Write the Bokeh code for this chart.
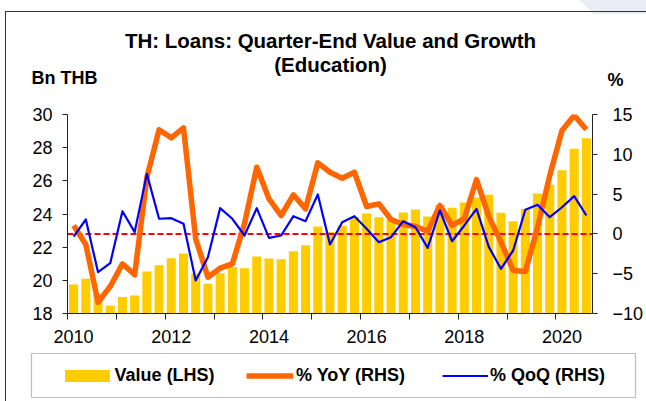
from bokeh.plotting import figure
from bokeh.layouts import column
from bokeh.models import (Range1d, LinearAxis, FixedTicker, Legend, LegendItem,
                          BoxAnnotation, ColumnDataSource, Plot)
from bokeh.core.properties import value
from bokeh.embed import file_html
from bokeh.resources import INLINE

# ---------------- data ----------------
quarters = [f"{y}Q{q}" for y in range(2010, 2021) for q in range(1, 5)][:43]

value_bn = [19.75, 20.09, 19.14, 18.48, 19.00, 19.08, 20.53, 20.91, 21.33, 21.62,
            20.40, 19.80, 20.43, 20.80, 20.73, 21.43, 21.31, 21.27, 21.76, 22.12,
            23.25, 22.92, 23.29, 23.81, 24.03, 23.81, 23.69, 24.09, 24.27, 23.85,
            24.55, 24.37, 24.69, 25.00, 25.16, 24.07, 23.57, 24.31, 25.23, 25.76,
            26.64, 27.93, 28.57]

yoy_pct = [1.06, -1.33, -8.58, -6.60, -3.76, -5.14, 7.10, 13.08, 12.07, 13.33,
           -0.62, -5.44, -4.30, -3.76, 1.30, 8.38, 4.41, 2.31, 4.91, 3.15,
           8.93, 7.75, 7.00, 7.75, 3.44, 3.78, 1.81, 1.18, 0.93, 0.34,
           3.57, 1.06, 1.90, 6.83, 2.20, -1.00, -4.60, -4.72, 0.84, 7.34,
           12.99, 14.87, 13.12]

qoq_pct = [-0.33, 1.81, -4.80, -3.68, 2.85, 0.22, 7.54, 1.90, 1.98, 1.27,
           -5.85, -2.93, 3.23, 1.90, -0.20, 3.23, -0.49, -0.20, 2.23, 1.60,
           4.95, -1.33, 1.47, 2.23, 0.64, -1.04, -0.41, 1.60, 0.84, -1.75,
           2.94, -0.92, 1.06, 3.15, -1.60, -4.39, -2.09, 3.03, 3.66, 2.10,
           3.35, 4.74, 2.31]

year_labels = ["2010", "2012", "2014", "2016", "2018", "2020"]
lhs_ticks = [18, 20, 22, 24, 26, 28, 30]
rhs_ticks = [-10, -5, 0, 5, 10, 15]

title_lines = ["TH: Loans: Quarter-End Value and Growth", "(Education)"]
lhs_unit = "Bn THB"
rhs_unit = "%"
series_names = ["Value (LHS)", "% YoY (RHS)", "% QoQ (RHS)"]

FONT = "Liberation Sans"
BAR_C, YOY_C, QOQ_C, ZERO_C = "#FFCC00", "#FF6600", "#0000FF", "#FF0000"
W = 646
n = len(quarters)
src = ColumnDataSource(dict(x=list(range(n)), value=value_bn, yoy=yoy_pct, qoq=qoq_pct))

HAS_FRAME_ALIGN = "frame_align" in Plot.properties()


def bare(fig):
    fig.xgrid.visible = False
    fig.ygrid.visible = False
    fig.outline_line_color = None
    fig.border_fill_color = None
    fig.background_fill_color = None
    if HAS_FRAME_ALIGN:
        fig.frame_align = False
    return fig


# ---------------- header (title + unit labels) ----------------
H1 = 100
hdr = bare(figure(width=W, height=H1, x_range=Range1d(0, W), y_range=Range1d(H1, 0),
                  x_axis_type=None, y_axis_type=None, min_border=0,
                  output_backend="svg", toolbar_location=None))
hdr.text(x=[330, 330], y=[40.2, 64.2], text=title_lines, text_align="center",
         text_baseline="middle", text_font=value(FONT), text_font_size=value("20.5px"),
         text_font_style="bold", text_color="black")
hdr.text(x=[31], y=[77.5], text=[lhs_unit], text_align="left", text_baseline="middle",
         text_font=value(FONT), text_font_size=value("18px"), text_font_style="bold",
         text_color="black")
hdr.text(x=[607], y=[79.5], text=[rhs_unit], text_align="left", text_baseline="middle",
         text_font=value(FONT), text_font_size=value("18px"), text_font_style="bold",
         text_color="black")

# ---------------- chart ----------------
H2 = 248
p = bare(figure(width=W, height=H2,
                x_range=Range1d(-0.5, n - 0.5),
                y_range=Range1d(lhs_ticks[0], lhs_ticks[-1]),
                output_backend="svg", toolbar_location=None,
                min_border_left=67, min_border_right=53,
                min_border_top=14, min_border_bottom=35))
p.background_fill_color = "white"
p.extra_y_ranges = {"pct": Range1d(rhs_ticks[0], rhs_ticks[-1])}

label_pos = {quarters.index(f"{y}Q1"): y for y in year_labels}
xa = p.xaxis[0]
xa.ticker = FixedTicker(ticks=list(label_pos.keys()),
                        minor_ticks=[i - 0.5 for i in range(0, n, 4)])
xa.major_label_overrides = label_pos
xa.major_tick_out = 0
xa.major_tick_in = 0
xa.minor_tick_out = 6
xa.minor_tick_in = 0
xa.major_label_standoff = 10

la = p.yaxis[0]
la.ticker = FixedTicker(ticks=lhs_ticks)
la.major_label_standoff = 10
ra = LinearAxis(y_range_name="pct", ticker=FixedTicker(ticks=rhs_ticks))
ra.major_label_standoff = 15
p.add_layout(ra, "right")
for ax in (la, ra):
    ax.major_tick_out = 5
    ax.major_tick_in = 0
    ax.minor_tick_out = 0
    ax.minor_tick_in = 0
for ax in (xa, la, ra):
    ax.axis_line_color = "#222222"
    ax.major_tick_line_color = "#222222"
    ax.minor_tick_line_color = "#222222"
    ax.major_label_text_font = FONT
    ax.major_label_text_font_size = "18px"
    ax.major_label_text_color = "black"

p.vbar(x="x", top="value", bottom=lhs_ticks[0], width=0.74, source=src,
       fill_color=BAR_C, line_color=None)
p.line(x=[-0.5, n - 0.5], y=[0, 0], y_range_name="pct",
       line_color=ZERO_C, line_width=2, line_dash="6 3")
p.line(x="x", y="yoy", source=src, y_range_name="pct",
       line_color=YOY_C, line_width=5.5, line_join="round")
p.line(x="x", y="qoq", source=src, y_range_name="pct",
       line_color=QOQ_C, line_width=2.2, line_join="round")

# ---------------- legend strip ----------------
H3 = 401 - H1 - H2
top3 = H1 + H2
lf = bare(figure(width=W, height=H3, x_range=Range1d(0, W), y_range=Range1d(401, top3),
                 x_axis_type=None, y_axis_type=None, min_border=0,
                 output_backend="svg", toolbar_location=None))
lf.extra_x_ranges = {"off": Range1d(10000, 20000)}
lf.extra_y_ranges = {"off": Range1d(10000, 20000)}
lf.add_layout(BoxAnnotation(left=31, right=635, top=353, bottom=397,
                            fill_color="white", fill_alpha=1,
                            line_color="#222222", line_width=1.2, level="underlay"))
# legend swatch renderers: same series, mapped far outside this strip's view
r_bar = lf.vbar(x="x", top="value", bottom=lhs_ticks[0], width=0.74, source=src,
                fill_color=BAR_C, line_color=None,
                x_range_name="off", y_range_name="off")
r_yoy = lf.line(x="x", y="yoy", source=src, line_color=YOY_C, line_width=5.5,
                x_range_name="off", y_range_name="off")
r_qoq = lf.line(x="x", y="qoq", source=src, line_color=QOQ_C, line_width=2.2,
                x_range_name="off", y_range_name="off")


def add_legend(label, rend, x, gw, standoff):
    lg = Legend(items=[LegendItem(label=label, renderers=[rend])],
                location=(x, 15.5), orientation="horizontal",
                glyph_width=gw, glyph_height=15, label_height=15,
                label_standoff=standoff, padding=0, spacing=0, margin=0,
                border_line_color=None, background_fill_alpha=0,
                label_text_font=FONT, label_text_font_size="18px",
                label_text_font_style="bold", label_text_color="black")
    lf.add_layout(lg)


add_legend(series_names[0], r_bar, 58.6, 56, 0)
add_legend(series_names[1], r_yoy, 246, 47, 3)
add_legend(series_names[2], r_qoq, 442, 46, 2)

bg = ("linear-gradient(#333,#333) 5px 11px / 1px 400px no-repeat, "
      "linear-gradient(#333,#333) 5px 11px / 660px 1px no-repeat, "
      "linear-gradient(225deg, #ECECF6 67%, rgba(255,255,255,0) 67%) "
      "560px 0 / 86px 14px no-repeat, white")
layout = column(hdr, p, lf, spacing=0, styles={"background": bg})

open("out.html", "w").write(file_html(layout, INLINE))
